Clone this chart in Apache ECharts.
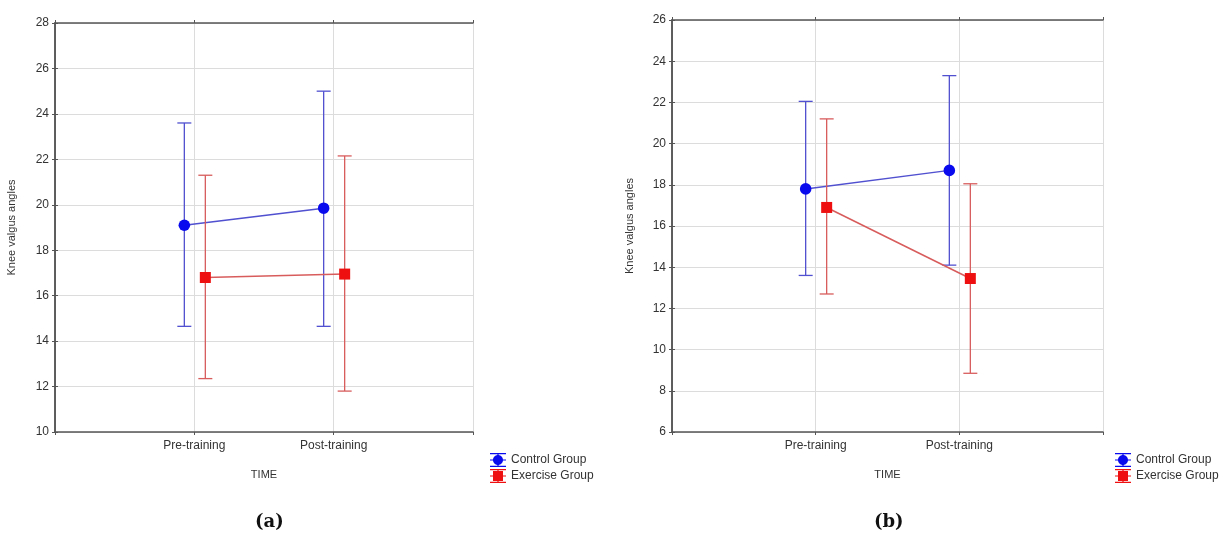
<!DOCTYPE html>
<html>
<head>
<meta charset="utf-8">
<script src="https://cdn.jsdelivr.net/npm/echarts@6/dist/echarts.min.js"></script>
<style>
html,body{margin:0;padding:0;background:#fff;}
#chart{width:1226px;height:533px;}
</style>
</head>
<body>
<div id="chart"></div>
<script>
// ---- data ----
const categories = ['Pre-training', 'Post-training'];
const tickLabels = ['', 'Pre-training', 'Post-training', ''];
const seriesNames = ['Control Group', 'Exercise Group'];

// panel (a)
const ctrlMeanA = [19.1, 19.85];
const ctrlLowA  = [14.65, 14.65];
const ctrlHighA = [23.6, 25.0];
const exMeanA   = [16.8, 16.95];
const exLowA    = [12.35, 11.8];
const exHighA   = [21.3, 22.15];

// panel (b)
const ctrlMeanB = [17.8, 18.7];
const ctrlLowB  = [13.6, 14.1];
const ctrlHighB = [22.05, 23.3];
const exMeanB   = [16.9, 13.45];
const exLowB    = [12.7, 8.85];
const exHighB   = [21.2, 18.05];

const yTicksA = {min: 10, max: 28, interval: 2};
const yTicksB = {min: 6, max: 26, interval: 2};

// ---- chart ----
const FONT = 'Liberation Sans, Arial, sans-serif';
const blueLine = '#5050d0', blueMark = '#0a0aee';
const redLine = '#d85c5c', redMark = '#ee1010';

function build(mean, low, high) {
  return categories.map((c, i) => [i + 1, mean[i], low[i], high[i]]);
}

function makeRender(data, offset, lineColor, markColor, shape) {
  return function (params, api) {
    const i = params.dataIndex;
    const x = api.value(0);
    const pm = api.coord([x, api.value(1)]);
    const plo = api.coord([x, api.value(2)]);
    const phi = api.coord([x, api.value(3)]);
    const px = pm[0] + offset;
    const children = [];
    const capW = 7;
    const ls = {stroke: lineColor, lineWidth: 1.3};
    children.push({type: 'line', shape: {x1: px, y1: phi[1], x2: px, y2: plo[1]}, style: ls});
    children.push({type: 'line', shape: {x1: px - capW, y1: phi[1], x2: px + capW, y2: phi[1]}, style: ls});
    children.push({type: 'line', shape: {x1: px - capW, y1: plo[1], x2: px + capW, y2: plo[1]}, style: ls});
    if (i + 1 < data.length) {
      const n = data[i + 1];
      const pn = api.coord([n[0], n[1]]);
      children.push({type: 'line', shape: {x1: px, y1: pm[1], x2: pn[0] + offset, y2: pn[1]}, style: {stroke: lineColor, lineWidth: 1.5}});
    }
    if (shape === 'circle') {
      children.push({type: 'circle', z2: 10, shape: {cx: px, cy: pm[1], r: 5.8}, style: {fill: markColor}});
    } else {
      children.push({type: 'rect', z2: 10, shape: {x: px - 5.5, y: pm[1] - 5.5, width: 11, height: 11}, style: {fill: markColor}});
    }
    return {type: 'group', children: children};
  };
}

function seriesFor(gridIdx, ctrl, ex) {
  const cd = build(ctrl[0], ctrl[1], ctrl[2]);
  const ed = build(ex[0], ex[1], ex[2]);
  return [
    {
      name: seriesNames[0], type: 'custom', xAxisIndex: gridIdx * 2, yAxisIndex: gridIdx * 2,
      itemStyle: {color: blueMark}, data: cd, z: 3, clip: false,
      renderItem: makeRender(cd, -10, blueLine, blueMark, 'circle')
    },
    {
      name: seriesNames[1], type: 'custom', xAxisIndex: gridIdx * 2, yAxisIndex: gridIdx * 2,
      itemStyle: {color: redMark}, data: ed, z: 4, clip: false,
      renderItem: makeRender(ed, 11, redLine, redMark, 'square')
    }
  ];
}

const iconBars = 'M0,0L16,0L16,1.3L0,1.3Z M0,12.7L16,12.7L16,14L0,14Z M0,6.4L16,6.4L16,7.6L0,7.6Z M7.4,0L8.6,0L8.6,14L7.4,14Z ';
const iconCircle = 'path://' + iconBars + 'M3,7C3,4.24 5.24,2 8,2C10.76,2 13,4.24 13,7C13,9.76 10.76,12 8,12C5.24,12 3,9.76 3,7Z';
const iconSquare = 'path://' + iconBars + 'M3,2L13,2L13,12L3,12Z';

function xAxes(gridIdx) {
  return [
    {
      type: 'value', gridIndex: gridIdx, min: 0, max: 3, interval: 1, position: 'bottom',
      name: 'TIME', nameLocation: 'middle', nameGap: 37,
      nameTextStyle: {fontFamily: FONT, fontSize: 11, color: '#333'},
      axisLine: {show: true, lineStyle: {color: '#555', width: 1.5}},
      axisTick: {show: true, length: 3, lineStyle: {color: '#555'}},
      axisLabel: {fontFamily: FONT, fontSize: 12, color: '#333', margin: 8,
        formatter: v => tickLabels[Math.round(v)] || ''},
      splitLine: {show: true, lineStyle: {color: '#dcdcdc', width: 1}}
    },
    {
      type: 'value', gridIndex: gridIdx, min: 0, max: 3, interval: 1, position: 'top',
      axisLine: {show: true, lineStyle: {color: '#555', width: 1.5}},
      axisTick: {show: true, length: 3, lineStyle: {color: '#555'}},
      axisLabel: {show: false}, splitLine: {show: false}
    }
  ];
}

function yAxes(gridIdx, t, gap) {
  return [
    {
      type: 'value', gridIndex: gridIdx, min: t.min, max: t.max, interval: t.interval, position: 'left',
      name: 'Knee valgus angles', nameLocation: 'middle', nameGap: gap,
      nameTextStyle: {fontFamily: FONT, fontSize: 11, color: '#333'},
      axisLine: {show: true, lineStyle: {color: '#555', width: 1.5}},
      axisTick: {show: true, length: 3, lineStyle: {color: '#555'}},
      axisLabel: {fontFamily: FONT, fontSize: 12, color: '#333', margin: 6},
      splitLine: {show: true, lineStyle: {color: '#dcdcdc', width: 1}}
    },
    {
      type: 'value', gridIndex: gridIdx, min: t.min, max: t.max, interval: t.interval, position: 'right',
      axisLine: {show: true, lineStyle: {color: '#555', width: 1.5}},
      axisTick: {show: true, length: 3, lineStyle: {color: '#555'}},
      axisLabel: {show: false}, splitLine: {show: false}
    }
  ];
}

function legendAt(left, top) {
  return {
    orient: 'vertical', left: left, top: top, itemGap: 2, itemWidth: 16, itemHeight: 14,
    selectedMode: false,
    textStyle: {fontFamily: FONT, fontSize: 12, color: '#333'},
    data: [{name: seriesNames[0], icon: iconCircle}, {name: seriesNames[1], icon: iconSquare}]
  };
}

const captionRich = {
  p: {fontFamily: 'DejaVu Serif, serif', fontSize: 18, color: '#111'},
  b: {fontFamily: 'DejaVu Serif, serif', fontSize: 18, fontWeight: 'bold', color: '#111'}
};

const option = {
  backgroundColor: '#fff',
  animation: false,
  title: [
    {text: '{p|(}{b|a}{p|)}', left: 250, top: 508, textStyle: {rich: captionRich}},
    {text: '{p|(}{b|b}{p|)}', left: 869, top: 508, textStyle: {rich: captionRich}}
  ],
  legend: [legendAt(485, 448), legendAt(1110, 448)],
  grid: [
    {left: 55, top: 23, width: 418, height: 409, show: false},
    {left: 672, top: 20, width: 431, height: 412, show: false}
  ],
  xAxis: [...xAxes(0), ...xAxes(1)],
  yAxis: [...yAxes(0, yTicksA, 38), ...yAxes(1, yTicksB, 37)],
  series: [
    ...seriesFor(0, [ctrlMeanA, ctrlLowA, ctrlHighA], [exMeanA, exLowA, exHighA]),
    ...seriesFor(1, [ctrlMeanB, ctrlLowB, ctrlHighB], [exMeanB, exLowB, exHighB])
  ]
};

const chart = echarts.init(document.getElementById('chart'), null, {renderer: 'canvas'});
chart.setOption(option);
</script>
</body>
</html>
